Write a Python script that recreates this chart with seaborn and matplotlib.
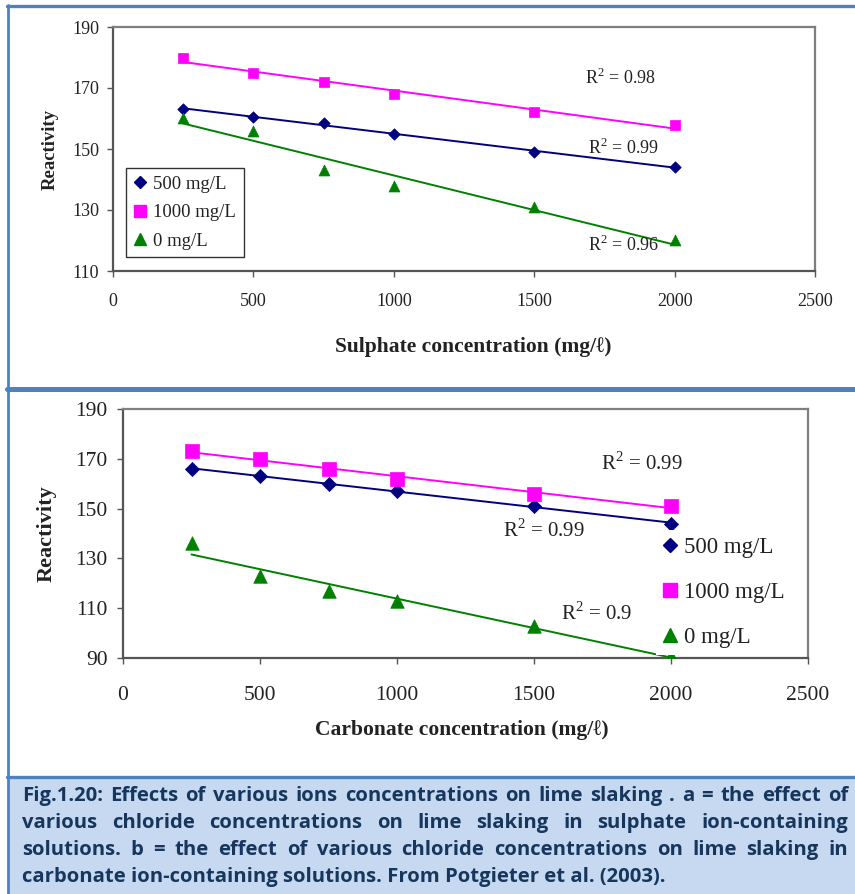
import numpy as np
import pandas as pd
import matplotlib
matplotlib.use("Agg")
import matplotlib.pyplot as plt
from matplotlib.lines import Line2D
from matplotlib.patches import Rectangle
import seaborn as sns

# ---------------- data ----------------
conc = [250, 500, 750, 1000, 1500, 2000]
series_names = ["500 mg/L", "1000 mg/L", "0 mg/L"]

sulphate_500 = [163, 160.5, 158.5, 155, 149, 144]
sulphate_1000 = [180, 175, 172, 168, 162, 158]
sulphate_0 = [160, 156, 143, 138, 131, 120]
sulphate_r2 = ["0.99", "0.98", "0.96"]

carbonate_500 = [166, 163, 160, 157, 151, 144]
carbonate_1000 = [173, 170, 166, 162, 156, 151]
carbonate_0 = [136, 123, 117, 113, 103, 91]
carbonate_r2 = ["0.99", "0.99", "0.9"]

x_ticks = [0, 500, 1000, 1500, 2000, 2500]
top_y_ticks = [110, 130, 150, 170, 190]
bot_y_ticks = [90, 110, 130, 150, 170, 190]

caption_lines = [
    "Fig.1.20: Effects of various ions concentrations on lime slaking . a = the effect of",
    "various chloride concentrations on lime slaking in sulphate ion-containing",
    "solutions. b = the effect of various chloride concentrations on lime slaking in",
    "carbonate ion-containing solutions. From Potgieter et al. (2003).",
]

# ---------------- style ----------------
sns.set_theme(style="white")
SERIF = ["Liberation Serif", "DejaVu Serif"]
plt.rcParams["font.family"] = SERIF
plt.rcParams["mathtext.fontset"] = "custom"
plt.rcParams["mathtext.rm"] = "Liberation Serif"

colors = {"500 mg/L": "#000080", "1000 mg/L": "#ff00ff", "0 mg/L": "#008000"}
markers = {"500 mg/L": "D", "1000 mg/L": "s", "0 mg/L": "^"}

W, H = 855, 894
fig = plt.figure(figsize=(W / 100, H / 100), dpi=100)


def fx(x):
    return x / W


def fy(y):
    return 1 - y / H


def make_df(v500, v1000, v0):
    rows = []
    for name, vals in zip(series_names, [v500, v1000, v0]):
        for c, v in zip(conc, vals):
            rows.append({"conc": c, "reactivity": v, "series": name})
    return pd.DataFrame(rows)


def draw_panel(ax, df, sizes, ylim, yticks, tick_fs, tick_pad_x, tick_pad_y):
    for name in series_names:
        sub = df[df["series"] == name]
        sns.regplot(data=sub, x="conc", y="reactivity", scatter=False, ci=None,
                    truncate=True, color=colors[name], ax=ax,
                    line_kws={"lw": 1.4, "zorder": 2})
        sns.scatterplot(data=sub, x="conc", y="reactivity", marker=markers[name],
                        color=colors[name], s=sizes[name], edgecolor=colors[name],
                        linewidth=0.5, ax=ax, zorder=3, legend=False)
    ax.set_xlim(0, 2500)
    ax.set_ylim(*ylim)
    ax.set_xticks(x_ticks)
    ax.set_yticks(yticks)
    ax.set_xticklabels([str(t) for t in x_ticks])
    ax.set_yticklabels([str(t) for t in yticks])
    for s in ax.spines.values():
        s.set_visible(True)
        s.set_linewidth(1.6)
        s.set_color("#7f7f7f")
    ax.spines["left"].set_color("#555555")
    ax.spines["bottom"].set_color("#555555")
    ax.tick_params(axis="both", which="major", direction="out", length=4,
                   width=1, color="#555555", labelsize=tick_fs, labelcolor="#222222",
                   bottom=True, left=True, labelfontfamily="Liberation Serif")
    ax.tick_params(axis="x", pad=tick_pad_x)
    ax.tick_params(axis="y", pad=tick_pad_y)
    ax.set_facecolor("white")


# ---------------- top panel (sulphate) ----------------
ax1 = fig.add_axes([fx(113), fy(271), (815 - 113) / W, (271 - 27) / H])
df1 = make_df(sulphate_500, sulphate_1000, sulphate_0)
sizes1 = {"500 mg/L": 34, "1000 mg/L": 62, "0 mg/L": 62}
draw_panel(ax1, df1, sizes1, (110, 190), top_y_ticks, 13, 12, 6)
ax1.set_xlabel("Sulphate concentration (mg/ℓ)", fontsize=15.5, fontweight="bold",
               color="#222222")
ax1.set_ylabel("Reactivity", fontsize=13.5, fontweight="bold", color="#222222")
ax1.xaxis.set_label_coords((473.5 - 113) / 702, (271 - 347) / 244)
ax1.xaxis.label.set_va("center")
ax1.yaxis.set_label_coords((50 - 113) / 702, 0.5)
ax1.yaxis.label.set_va("center")

r2_pos1 = {"1000 mg/L": (1681, 173.3), "500 mg/L": (1692, 150.2), "0 mg/L": (1692, 118.6)}
for name, r2 in zip(series_names, sulphate_r2):
    x, y = r2_pos1[name]
    ax1.text(x, y, "R$^2$ = " + r2, fontsize=13, color="#222222", ha="left",
             va="center", zorder=4)

handles1 = [Line2D([], [], ls="none", marker=markers[n], color=colors[n],
                   markersize=(6 if n == "500 mg/L" else 8.5)) for n in series_names]
leg1 = ax1.legend(handles1, series_names, loc="lower left",
                  bbox_to_anchor=(fx(126), fy(257)), bbox_transform=fig.transFigure,
                  borderaxespad=0, fontsize=13.5, frameon=True, fancybox=False,
                  edgecolor="#333333", framealpha=1, handlelength=0.7,
                  handletextpad=0.35, labelspacing=0.6, borderpad=0.4)
leg1.get_frame().set_linewidth(1.0)
for t in leg1.get_texts():
    t.set_color("#222222")

# ---------------- bottom panel (carbonate) ----------------
ax2 = fig.add_axes([fx(123), fy(658), (808 - 123) / W, (658 - 409) / H])
df2 = make_df(carbonate_500, carbonate_1000, carbonate_0)
sizes2 = {"500 mg/L": 52, "1000 mg/L": 95, "0 mg/L": 95}
draw_panel(ax2, df2, sizes2, (90, 190), bot_y_ticks, 15.5, 16, 7)
ax2.set_xlabel("Carbonate concentration (mg/ℓ)", fontsize=15.5, fontweight="bold",
               color="#222222")
ax2.set_ylabel("Reactivity", fontsize=16, fontweight="bold", color="#222222")
ax2.xaxis.set_label_coords((461.5 - 123) / 685, (658 - 730) / 249)
ax2.xaxis.label.set_va("center")
ax2.yaxis.set_label_coords((47 - 123) / 685, 0.5)
ax2.yaxis.label.set_va("center")

r2_pos2 = {"1000 mg/L": (1745, 168.3), "500 mg/L": (1387, 141.4), "0 mg/L": (1599, 107.7)}
for name, r2 in zip(series_names, carbonate_r2):
    x, y = r2_pos2[name]
    ax2.text(x, y, "R$^2$ = " + r2, fontsize=15, color="#222222", ha="left",
             va="center", zorder=4)

handles2 = [Line2D([], [], ls="none", marker=markers[n], color=colors[n],
                   markersize=(7.5 if n == "500 mg/L" else 10.5)) for n in series_names]
leg2 = ax2.legend(handles2, series_names, loc="upper left",
                  bbox_to_anchor=(fx(656), fy(530)), bbox_transform=fig.transFigure,
                  borderaxespad=0, fontsize=16.5, frameon=True, fancybox=False,
                  edgecolor="none", facecolor="white", framealpha=1,
                  handlelength=0.6, handletextpad=0.3, labelspacing=1.05,
                  borderpad=0.3)
leg2.set_zorder(10)
for t in leg2.get_texts():
    t.set_color("#222222")

# ---------------- frame lines and caption box ----------------
BLUE = "#4f81bd"
fig.add_artist(Rectangle((fx(9), fy(894)), (W - 9) / W, (894 - 778) / H,
                         transform=fig.transFigure, facecolor="#c6d9f1",
                         edgecolor="none", zorder=0))
for yy, lw in [(6, 2.4), (389.5, 3.6), (777, 2.4)]:
    fig.add_artist(Line2D([fx(7), 1], [fy(yy), fy(yy)], transform=fig.transFigure,
                          color=BLUE, lw=lw, zorder=5))
fig.add_artist(Line2D([fx(8), fx(8)], [fy(5), 0], transform=fig.transFigure,
                      color=BLUE, lw=2.0, zorder=5))

# caption with justified lines
CAP_FONT = ["Open Sans", "DejaVu Sans"]
renderer = fig.canvas.get_renderer()
left_px, right_px = 22, 848
last_line_right = 660
line_y = [796, 823, 850, 877]


def text_width(s, fs):
    t = fig.text(0, 0, s, fontsize=fs, fontweight="bold", family=CAP_FONT)
    w = t.get_window_extent(renderer).width
    t.remove()
    return w


base_fs = 13.0
cap_fs = base_fs * (last_line_right - left_px) / text_width(caption_lines[-1], base_fs)

for i, (line, yy) in enumerate(zip(caption_lines, line_y)):
    words = line.split(" ")
    if i == len(caption_lines) - 1:
        fig.text(fx(left_px), fy(yy), line, fontsize=cap_fs, fontweight="bold",
                 family=CAP_FONT, color="#17365d", ha="left", va="center")
        continue
    widths = [text_width(w, cap_fs) for w in words]
    gap = (right_px - left_px - sum(widths)) / (len(words) - 1)
    x = left_px
    for w, wd in zip(words, widths):
        fig.text(fx(x), fy(yy), w, fontsize=cap_fs, fontweight="bold",
                 family=CAP_FONT, color="#17365d", ha="left", va="center")
        x += wd + gap

fig.savefig("out.png", dpi=100, facecolor="white")
